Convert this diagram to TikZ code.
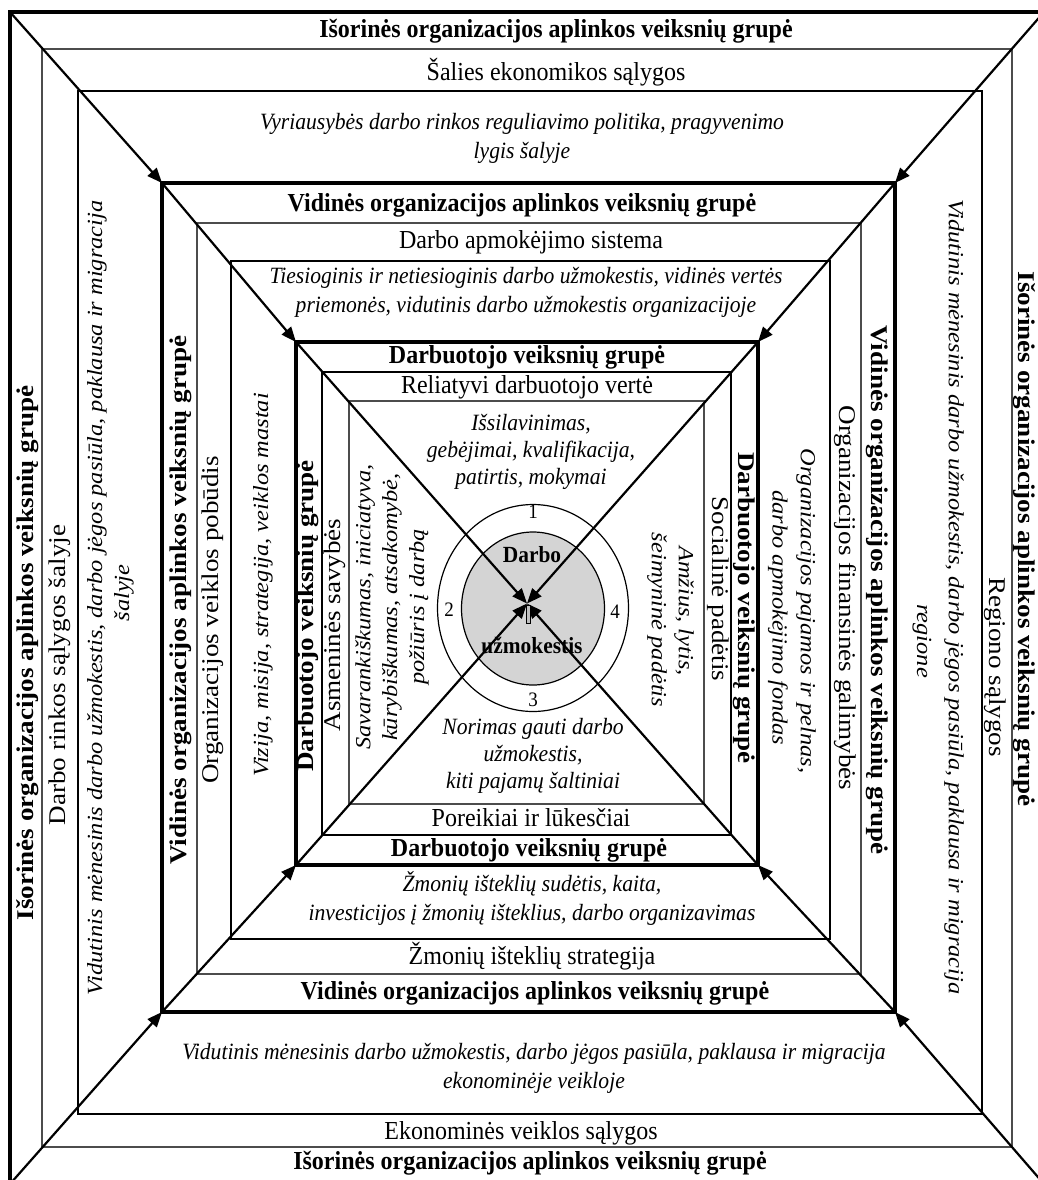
\documentclass[tikz,border=0pt]{standalone}
\usepackage{fontspec}
\setmainfont{Liberation Serif}
\usetikzlibrary{arrows.meta,shapes.geometric}
\begin{document}
\begin{tikzpicture}[x=0.5pt,y=-0.5pt,
  frameline/.style={line width=2pt},
  thinA/.style={line width=0.6pt, draw=black!70},
  thinB/.style={line width=0.6pt, draw=black},
  arr/.style={line width=1.1pt, -{Triangle[length=7.5pt,width=6pt]}},
  txt/.style={inner sep=0pt, yscale=1.08},
  hb/.style={txt, font=\fontsize{12}{14}\selectfont\bfseries},
  hr/.style={txt, font=\fontsize{12}{14}\selectfont},
  hi/.style={txt, font=\fontsize{10.8}{13.4}\selectfont\itshape, align=center},
  hii/.style={txt, font=\fontsize{10.8}{12.4}\selectfont\itshape, align=center},
  num/.style={txt, font=\fontsize{9.5}{11}\selectfont},
  cb/.style={txt, font=\fontsize{10.7}{12}\selectfont\bfseries},
  vup/.style={yscale=1.046, rotate=90},
  vdn/.style={yscale=1.046, rotate=-90}]
\useasboundingbox (0,0) rectangle (1038,1180);
\clip (0,0) rectangle (1038,1180);
% corners
\coordinate (O1) at (10,12);
\coordinate (O2) at (1044,12);
\coordinate (O3) at (1044,1184);
\coordinate (O4) at (10,1184);
\coordinate (V1) at (162,183);
\coordinate (V2) at (895,183);
\coordinate (V3) at (895,1012);
\coordinate (V4) at (162,1012);
\coordinate (D1) at (296,342);
\coordinate (D2) at (758,342);
\coordinate (D3) at (758,865);
\coordinate (D4) at (296,865);
\coordinate (C) at (527,603.5);
% frames
\draw[frameline] (O1) rectangle (O3);
\draw[thinA] (42,49) rectangle (1012,1147);
\draw[thinB] (78,91) rectangle (982,1114);
\draw[frameline] (V1) rectangle (V3);
\draw[thinA] (197,223) rectangle (861,974);
\draw[thinB] (231,261) rectangle (830,939);
\draw[frameline] (D1) rectangle (D3);
\draw[thinB] (322,372) rectangle (731,835);
\draw[thinA] (349,401) rectangle (704,804);
% circles
\node[draw, ellipse, line width=0.6pt, inner sep=0pt, minimum width=95.5pt, minimum height=103.5pt] (ring) at (533,608) {};
\node[draw, ellipse, line width=0.6pt, fill=black!17, inner sep=0pt, minimum width=71.5pt, minimum height=76.5pt] (core) at (533,608.5) {};
% arrows
\draw[arr] (O1) -- (V1);
\draw[arr] (O2) -- (V2);
\draw[arr] (O3) -- (V3);
\draw[arr] (O4) -- (V4);
\draw[arr] (V1) -- (D1);
\draw[arr] (V2) -- (D2);
\draw[arr] (V3) -- (D3);
\draw[arr] (V4) -- (D4);
\draw[arr] (D1) -- (C);
\draw[arr] (D2) -- (C);
\draw[arr] (D3) -- (C);
\draw[arr] (D4) -- (C);
\node[draw, line width=0.4pt, fill=black!25, inner sep=0pt, minimum width=2pt, minimum height=9pt] (bar) at (528,614) {};
% horizontal texts
\node[hb] (t1) at (556,31) {Išorinės organizacijos aplinkos veiksnių grupė};
\node[hr] (t2) at (556,72) {Šalies ekonomikos sąlygos};
\node[hi] (t3) at (522,138) {Vyriausybės darbo rinkos reguliavimo politika, pragyvenimo\\lygis šalyje};
\node[hb] (t4) at (522,205) {Vidinės organizacijos aplinkos veiksnių grupė};
\node[hr] (t5) at (531,242) {Darbo apmokėjimo sistema};
\node[hi] (t6) at (526,292) {Tiesioginis ir netiesioginis darbo užmokestis, vidinės vertės\\priemonės, vidutinis darbo užmokestis organizacijoje};
\node[hb] (t7) at (527,357) {Darbuotojo veiksnių grupė};
\node[hr] (t8) at (527,387) {Reliatyvi darbuotojo vertė};
\node[hii] (t9) at (531,452) {Išsilavinimas,\\gebėjimai, kvalifikacija,\\patirtis, mokymai};
\node[hii] (t10) at (533,756) {Norimas gauti darbo\\užmokestis,\\kiti pajamų šaltiniai};
\node[hr] (t11) at (531,818) {Poreikiai ir lūkesčiai};
\node[hb] (t12) at (529,850) {Darbuotojo veiksnių grupė};
\node[hi] (t13) at (532,898) {Žmonių išteklių sudėtis, kaita,\\investicijos į žmonių išteklius, darbo organizavimas};
\node[hr] (t14) at (532,956) {Žmonių išteklių strategija};
\node[hb] (t15) at (535,993) {Vidinės organizacijos aplinkos veiksnių grupė};
\node[hi] (t16) at (534,1068) {Vidutinis mėnesinis darbo užmokestis, darbo jėgos pasiūla, paklausa ir migracija\\ekonominėje veikloje};
\node[hr] (t17) at (521,1133) {Ekonominės veiklos sąlygos};
\node[hb] (t18) at (530,1163) {Išorinės organizacijos aplinkos veiksnių grupė};
% left texts
\node[hb, vup] (l1) at (28,653) {Išorinės organizacijos aplinkos veiksnių grupė};
\node[hr, vup] (l2) at (60,675) {Darbo rinkos sąlygos šalyje};
\node[hi, vup] (l3a) at (97,598) {Vidutinis mėnesinis darbo užmokestis, darbo jėgos pasiūla, paklausa ir migracija};
\node[hi, vup] (l3b) at (124,593) {šalyje};
\node[hb, vup] (l4) at (181,600) {Vidinės organizacijos aplinkos veiksnių grupė};
\node[hr, vup] (l5) at (213,620) {Organizacijos veiklos pobūdis};
\node[hi, vup] (l6) at (263,585) {Vizija, misija, strategija, veiklos mastai};
\node[hb, vup] (l7) at (308,616) {Darbuotojo veiksnių grupė};
\node[hr, vup] (l8) at (335,625) {Asmeninės savybės};
\node[hi, vup] (l9) at (392,607) {Savarankiškumas, iniciatyva,\\kūrybiškumas, atsakomybė,\\požiūris į darbą};
% right texts
\node[hb, vdn] (r1) at (1024,539) {Išorinės organizacijos aplinkos veiksnių grupė};
\node[hr, vdn] (r2) at (995,667) {Regiono sąlygos};
\node[hi, vdn] (r3a) at (954,597) {Vidutinis mėnesinis darbo užmokestis, darbo jėgos pasiūla, paklausa ir migracija};
\node[hi, vdn] (r3b) at (922,641) {regione};
\node[hb, vdn] (r4) at (877,590) {Vidinės organizacijos aplinkos veiksnių grupė};
\node[hr, vdn] (r5) at (845,598) {Organizacijos finansinės galimybės};
\node[hi, vdn] (r6a) at (806,611) {Organizacijos pajamos ir pelnas,};
\node[hi, vdn] (r6b) at (778,618) {darbo apmokėjimo fondas};
\node[hb, vdn] (r7) at (744,608) {Darbuotojo veiksnių grupė};
\node[hr, vdn] (r8) at (718,589) {Socialinė padėtis};
\node[hi, vdn] (r9a) at (684,611) {Amžius, lytis,};
\node[hi, vdn] (r9b) at (657,620) {šeimyninė padėtis};
% centre
\node[cb] (c1) at (532,555) {Darbo};
\node[cb] (c2) at (532,645) {užmokestis};
\node[num] (n1) at (533,512) {1};
\node[num] (n2) at (449,610) {2};
\node[num] (n3) at (533,700) {3};
\node[num] (n4) at (615,612) {4};
\end{tikzpicture}
\end{document}
